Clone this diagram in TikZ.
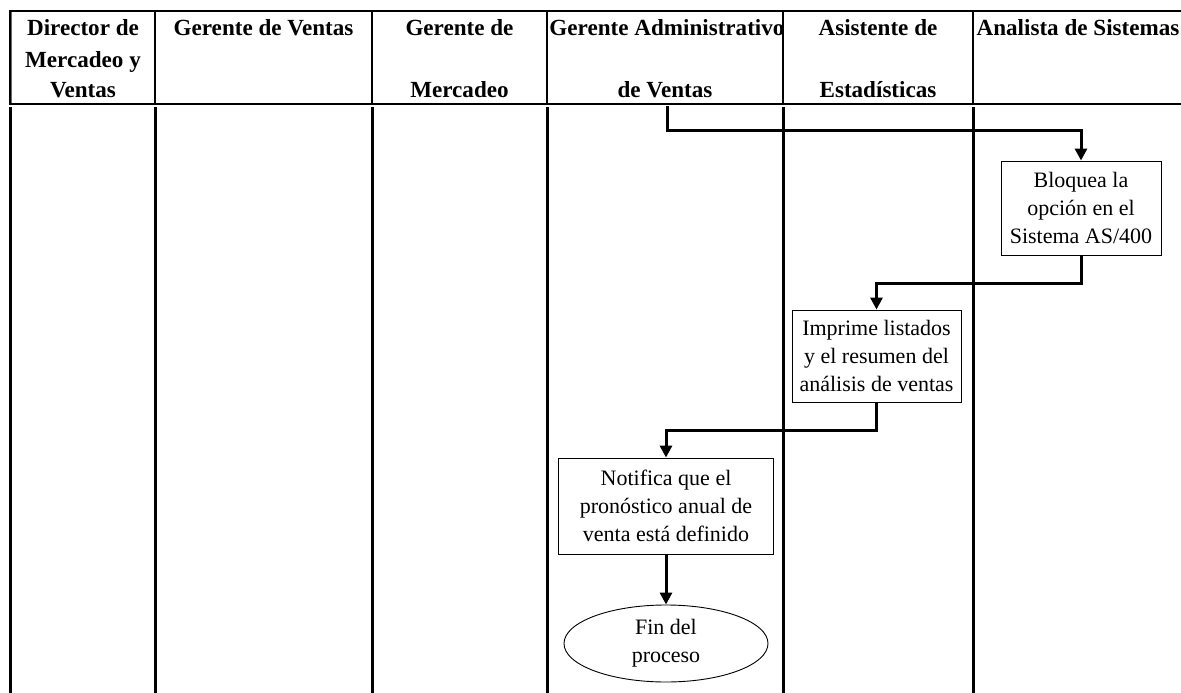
\documentclass[tikz,border=0pt]{standalone}
\usepackage{fontspec}
\setmainfont{Liberation Serif}
\usetikzlibrary{arrows.meta,shapes.geometric}
\definecolor{edgeblue}{RGB}{90,90,210}
\begin{document}
\begin{tikzpicture}[x=1pt,y=-1pt,
  lane/.style={line width=3pt},
  hsep/.style={line width=2.2pt},
  head/.style={font=\fontsize{23.1}{30}\selectfont\bfseries, inner sep=0pt, anchor=base},
  taskbox/.style={draw, line width=0.9pt, align=center,
    font=\fontsize{22}{27.7}\selectfont, inner sep=0pt},
  endbox/.style={draw, ellipse, line width=0.9pt, align=center,
    font=\fontsize{22}{27.7}\selectfont, inner sep=0pt},
  flow/.style={line width=3pt, -{Triangle[width=12pt,length=12pt]}}]
\useasboundingbox (0,0) rectangle (1181,693);

% header frame
\draw[line width=2.2pt] (9,11) -- (1181,11);
\draw[line width=2.6pt] (9,104) -- (1181,104);
\draw[line width=2.4pt] (10,11) -- (10,104);
\draw[edgeblue, line width=0.8pt] (11.6,12) -- (11.6,103);
\foreach \x in {155,372,547,783,973}
  \draw[hsep] (\x,11) -- (\x,104);

% swimlane separators
\foreach \x in {10,155,372,547,783,973}
  \draw[lane] (\x,107) -- (\x,693);

% lane titles
\node[head] (h1a) at (83,36) {Director de};
\node[head] (h1b) at (83,67) {Mercadeo y};
\node[head] (h1c) at (83,97) {Ventas};
\node[head] (h2) at (263.5,36) {Gerente de Ventas};
\node[head] (h3a) at (459.5,36) {Gerente de};
\node[head] (h3b) at (459.5,97) {Mercadeo};
\node[head] (h4a) at (667,36) {Gerente Administrativo};
\node[head] (h4b) at (665,97) {de Ventas};
\node[head] (h5a) at (878,36) {Asistente de};
\node[head] (h5b) at (878,97) {Estadísticas};
\node[head] (h6) at (1078,36) {Analista de Sistemas};

% process steps
\node[taskbox, minimum width=160pt, minimum height=94pt] (b1) at (1081,208)
  {Bloquea la\\opción en el\\Sistema AS/400};
\node[taskbox, minimum width=169pt, minimum height=92pt] (b2) at (876.5,356)
  {Imprime listados\\y el resumen del\\análisis de ventas};
\node[taskbox, minimum width=215pt, minimum height=96pt] (b3) at (666,506)
  {Notifica que el\\pronóstico anual de\\venta está definido};
\node[endbox, minimum width=204pt, minimum height=77pt] (fin) at (666,643.5)
  {Fin del\\proceso};

% flow
\coordinate (start) at (667,106);
\draw[flow] (start) -- ++(0,24) -| (b1.north);
\draw[flow] (b1.south) -- ++(0,28) -| (b2.north);
\draw[flow] (b2.south) -- ++(0,28) -| (b3.north);
\draw[flow] (b3.south) -- (fin.north);
\end{tikzpicture}
\end{document}
